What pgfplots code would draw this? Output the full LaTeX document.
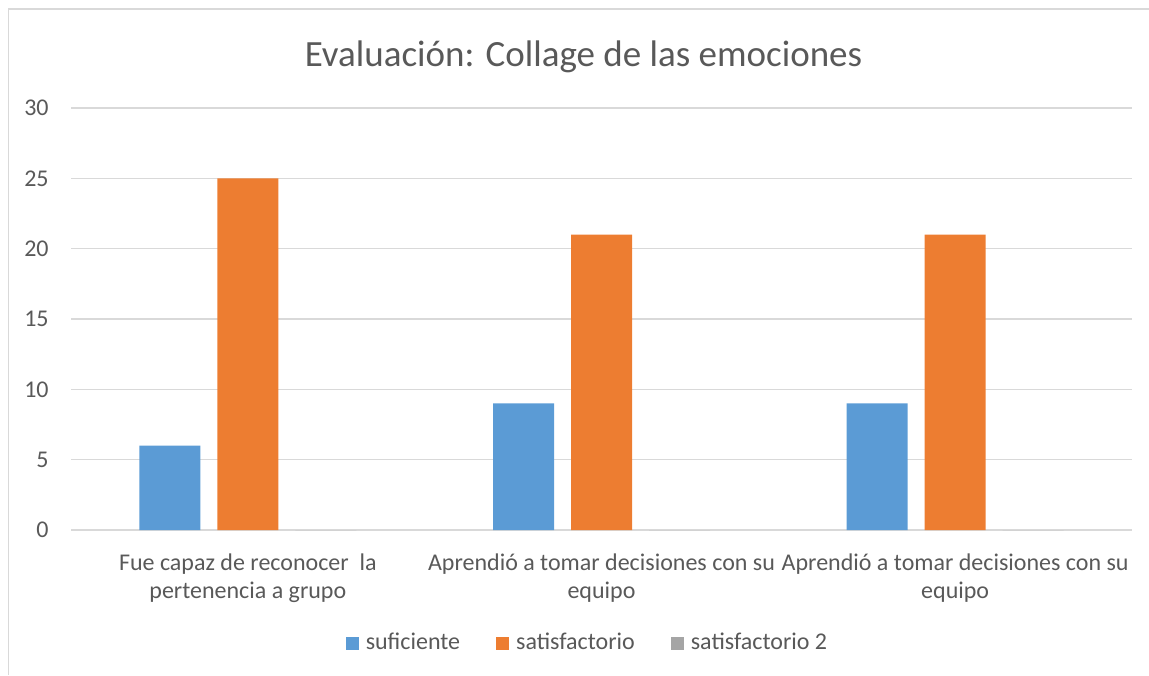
\documentclass[border=0pt]{standalone}
\usepackage{pgfplots}
\pgfplotsset{compat=1.18}
\usepackage{fontspec}
\setmainfont{Carlito}
\definecolor{cblue}{HTML}{5B9BD5}
\definecolor{corange}{HTML}{ED7D31}
\definecolor{cgray}{HTML}{A5A5A5}
\definecolor{ctext}{HTML}{595959}
\definecolor{cgrid}{HTML}{D9D9D9}
\begin{document}
\begin{tikzpicture}
\path[use as bounding box] (0,0) rectangle (574.5pt,337.5pt);
\draw[cgrid, line width=0.8pt] (4.25pt,0) -- (4.25pt,332.9pt) -- (574.5pt,332.9pt);
\begin{axis}[
  at={(35.5pt,72.5pt)}, anchor=south west,
  scale only axis, width=530.5pt, height=211pt,
  ybar=8.5pt, bar width=30.5pt,
  xmin=-0.5, xmax=2.5, ymin=0, ymax=30,
  ytick={0,5,...,30},
  xtick={0,1,2},
  /pgf/number format/assume math mode=true,
  xticklabels={{Fue capaz de reconocer~ la\\pertenencia a grupo},{Aprendió a tomar decisiones con su\\equipo},{Aprendió a tomar decisiones con su\\equipo}},
  axis line style={draw=none},
  major tick length=0pt,
  ymajorgrids, grid style={cgrid, line width=0.8pt},
  yticklabel style={text=ctext, font=\fontsize{12}{14}\selectfont, anchor=east, inner sep=0pt, xshift=-11pt},
  xticklabel style={text=ctext, font=\fontsize{12}{14}\selectfont, align=center, anchor=north, inner sep=0pt, yshift=-11.5pt},
  legend style={at={(axis description cs:0.4891,-0.2678)}, anchor=center, draw=none, legend columns=3, font=\fontsize{12}{14}\selectfont, text=ctext,
    /tikz/every even column/.append style={column sep=14.5pt},
    nodes={inner xsep=3.5pt}},
  legend image code/.code={\fill[#1] (0pt,-3.25pt) rectangle (6.5pt,3.25pt);},
  legend cell align=left,
]
\addplot[fill=cblue, draw=none] coordinates {(0,6) (1,9) (2,9)};
\addplot[fill=corange, draw=none] coordinates {(0,25) (1,21) (2,21)};
\addplot[fill=cgray, draw=none] coordinates {(0,0) (1,0) (2,0)};
\legend{suficiente,satisfactorio,satisfactorio 2}
\end{axis}
\node[text=ctext, font=\fontsize{18.5}{22}\selectfont] at (291.75pt,309pt) {Evaluación: Collage de las emociones};
\end{tikzpicture}
\end{document}
